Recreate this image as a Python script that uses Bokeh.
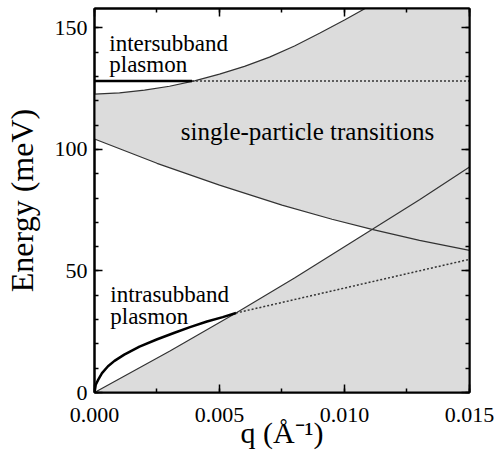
from bokeh.plotting import figure
from bokeh.models import (Range1d, LinearAxis, SingleIntervalTicker, Label,
                          NumeralTickFormatter, CustomJSTickFormatter)
from bokeh.embed import file_html
from bokeh.resources import INLINE

# ---- data ----
# upper edge of the intersubband single-particle continuum
q_upper = [0, 0.001, 0.002, 0.003, 0.004, 0.005, 0.006, 0.007, 0.008, 0.009, 0.010, 0.011, 0.0115]
e_upper = [122.8, 123.3, 124.4, 126.0, 128.2, 131.0, 134.2, 138.0, 142.6, 147.8, 153.3, 159.0, 162.0]
# lower edge of the intersubband continuum
q_lower = [0, 0.0025, 0.005, 0.0075, 0.0095, 0.0111, 0.013, 0.015]
e_lower = [104.3, 94.3, 85.3, 77.1, 71.3, 67.1, 62.6, 58.5]
# upper edge of the intrasubband continuum
q_intra_edge = [0, 0.003, 0.00566, 0.008, 0.0111, 0.013, 0.015]
e_intra_edge = [0, 17.0, 32.7, 47.1, 67.1, 79.3, 92.8]
# intersubband plasmon (solid, then damped -> dotted)
q_inter_pl = [0, 0.0039, 0.015]
e_inter_pl = [128.2, 128.2, 128.2]
# intrasubband plasmon
q_intra_pl = [0, 0.00005, 0.00015, 0.0003, 0.00054, 0.0008, 0.00119, 0.0018,
              0.00251, 0.0032, 0.00382, 0.0045, 0.00513, 0.00566]
e_intra_pl = [0, 3.2, 5.3, 8.0, 10.8, 13.0, 15.6, 18.9, 21.9, 24.6, 26.9, 29.2, 31.0, 32.7]
q_intra_dot = [0.00566, 0.015]
e_intra_dot = [32.7, 54.8]

x_ticks_interval = 0.005
y_ticks_interval = 50

FONT = "'Liberation Serif', 'Times New Roman', serif"
GREY = "#dcdcdc"
LINE = "#333333"

p = figure(width=501, height=456, output_backend="svg", toolbar_location=None,
           x_range=Range1d(0, 0.01500001), y_range=Range1d(0, 158),
           min_border_left=88, min_border_right=32, min_border_top=8, min_border_bottom=64)
p.xgrid.visible = False
p.ygrid.visible = False
p.outline_line_color = "black"
p.outline_line_width = 2
p.background_fill_color = "white"
p.border_fill_color = "white"

# continuum fills
p.patch(q_lower + [q_lower[-1]] + q_upper[::-1],
        e_lower + [e_upper[-1]] + e_upper[::-1],
        fill_color=GREY, line_color=None)
p.patch(q_intra_edge + [q_intra_edge[-1]],
        e_intra_edge + [0],
        fill_color=GREY, line_color=None)

# thin continuum edges
p.line(q_upper, e_upper, line_color=LINE, line_width=1.2)
p.line(q_lower, e_lower, line_color=LINE, line_width=1.2)
p.line(q_intra_edge, e_intra_edge, line_color=LINE, line_width=1.2)

# plasmons
p.line(q_inter_pl[:2], e_inter_pl[:2], line_color="black", line_width=2.5)
p.line(q_inter_pl[1:], e_inter_pl[1:], line_color=LINE, line_width=1.5, line_dash="2 2")
p.line(q_intra_pl, e_intra_pl, line_color="black", line_width=2.5)
p.line(q_intra_dot, e_intra_dot, line_color=LINE, line_width=1.5, line_dash="2 2")


def style_axis(ax, labels=True):
    ax.axis_line_width = 2
    ax.axis_line_color = "black"
    ax.major_tick_in = 8
    ax.major_tick_out = 0
    ax.minor_tick_in = 4
    ax.minor_tick_out = 0
    ax.major_tick_line_width = 1.5
    ax.minor_tick_line_width = 1.5
    ax.major_tick_line_color = "black"
    ax.minor_tick_line_color = "black"
    ax.major_label_text_font = FONT
    ax.major_label_text_color = "black"
    if labels:
        ax.major_label_text_font_size = "22px"
    else:
        ax.formatter = CustomJSTickFormatter(code="return '';")
        ax.major_label_text_font_size = "2px"
        ax.major_label_standoff = 0


xa = p.xaxis[0]
xa.ticker = SingleIntervalTicker(interval=x_ticks_interval, num_minor_ticks=2)
xa.formatter = NumeralTickFormatter(format="0.000")
style_axis(xa)
xa.major_label_standoff = 15
xa.axis_label = "q (Å⁻¹)"
xa.axis_label_text_font = FONT
xa.axis_label_text_font_size = "30px"
xa.axis_label_text_font_style = "normal"
xa.axis_label_text_color = "black"
xa.axis_label_standoff = -9

ya = p.yaxis[0]
ya.ticker = SingleIntervalTicker(interval=y_ticks_interval, num_minor_ticks=5)
style_axis(ya)
ya.major_label_standoff = 7
ya.axis_label = "Energy (meV)"
ya.axis_label_text_font = FONT
ya.axis_label_text_font_size = "32px"
ya.axis_label_text_font_style = "normal"
ya.axis_label_text_color = "black"
ya.axis_label_standoff = 12

top = LinearAxis(ticker=SingleIntervalTicker(interval=x_ticks_interval, num_minor_ticks=2))
style_axis(top, labels=False)
p.add_layout(top, "above")
right = LinearAxis(ticker=SingleIntervalTicker(interval=y_ticks_interval, num_minor_ticks=5))
style_axis(right, labels=False)
p.add_layout(right, "right")

# annotations
label_specs = [
    ("intersubband", 0.00059, 143.4, "23px", "left"),
    ("plasmon", 0.00059, 134.8, "23px", "left"),
    ("single-particle transitions", 0.00852, 107.3, "25px", "center"),
    ("intrasubband", 0.00063, 40.5, "23px", "left"),
    ("plasmon", 0.00063, 31.2, "23px", "left"),
]
for txt, lx, ly, fs, al in label_specs:
    p.add_layout(Label(x=lx, y=ly, text=txt, text_font=FONT, text_font_size=fs,
                       text_align=al, text_baseline="alphabetic", text_color="black"))

open("out.html", "w").write(file_html(p, INLINE))
